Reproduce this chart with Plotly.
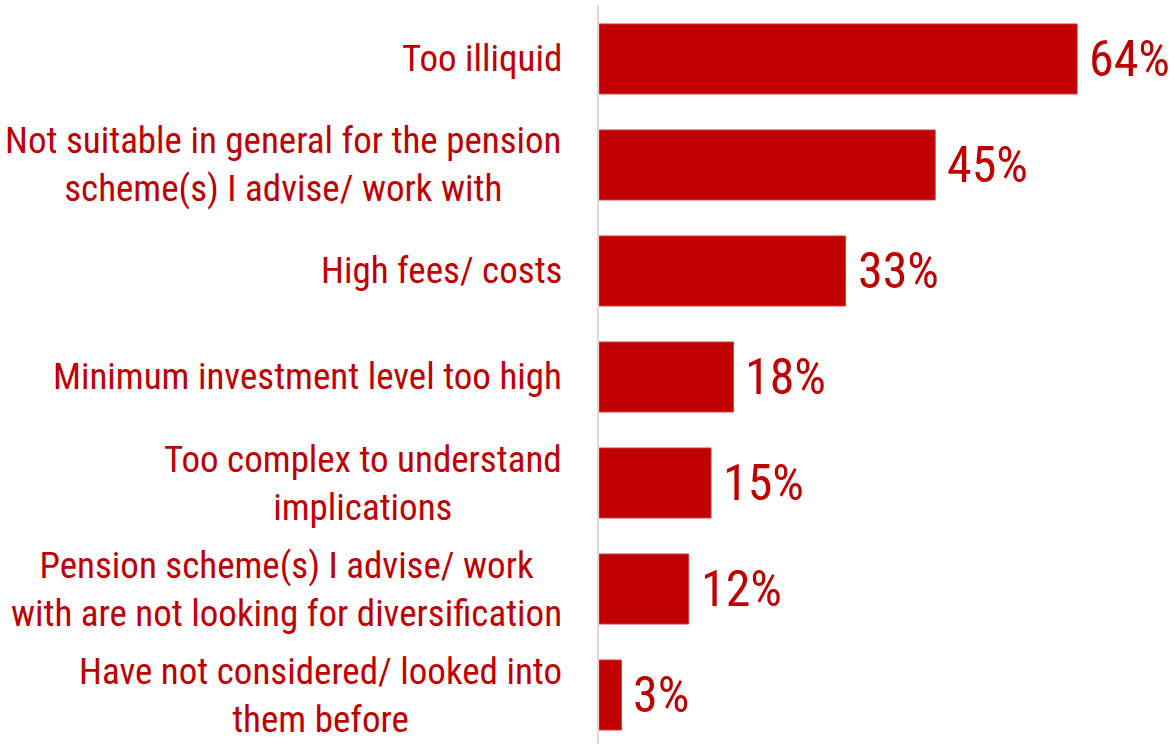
import plotly.graph_objects as go

# Reasons for not investing, share of respondents (%)
categories = [
    "Too illiquid",
    "Not suitable in general for the pension<br>scheme(s) I advise/ work with",
    "High fees/ costs",
    "Minimum investment level too high",
    "Too complex to understand<br>implications",
    "Pension scheme(s) I advise/ work<br>with are not looking for diversification",
    "Have not considered/ looked into<br>them before",
]
values = [64, 45, 33, 18, 15, 12, 3]
value_labels = ["64%", "45%", "33%", "18%", "15%", "12%", "3%"]

RED = "#C00000"
FONT = "Roboto Condensed, Liberation Sans Narrow, sans-serif"

fig = go.Figure(
    go.Bar(
        x=values,
        y=categories,
        orientation="h",
        marker=dict(color=RED, line=dict(color="#D23A3A", width=1)),
        width=0.66,
        hoverinfo="skip",
    )
)

# Category labels: right-aligned block, lines centred within it
for cat in categories:
    fig.add_annotation(
        x=0, xref="paper", y=cat, yref="y",
        text=cat, showarrow=False,
        xanchor="right", yanchor="middle", align="center",
        xshift=-35,
        font=dict(family=FONT, size=37, color=RED),
    )

# Value labels just past the end of each bar
for cat, v, lab in zip(categories, values, value_labels):
    fig.add_annotation(
        x=v, xref="x", y=cat, yref="y",
        text=lab, showarrow=False,
        xanchor="left", yanchor="middle",
        xshift=10,
        font=dict(family=FONT, size=50, color=RED),
    )

fig.update_layout(
    width=1175, height=744,
    margin=dict(l=599, r=0, t=5, b=0),
    paper_bgcolor="white", plot_bgcolor="white",
    showlegend=False,
    xaxis=dict(range=[0, 77.1], visible=False, fixedrange=True),
    yaxis=dict(
        type="category",
        categoryorder="array", categoryarray=categories,
        range=[6.462, -0.509],
        showticklabels=False, ticks="",
        showgrid=False, zeroline=False,
        showline=True, linecolor="#D9D9D9", linewidth=2,
        fixedrange=True,
    ),
)

fig.write_html("out.html")
